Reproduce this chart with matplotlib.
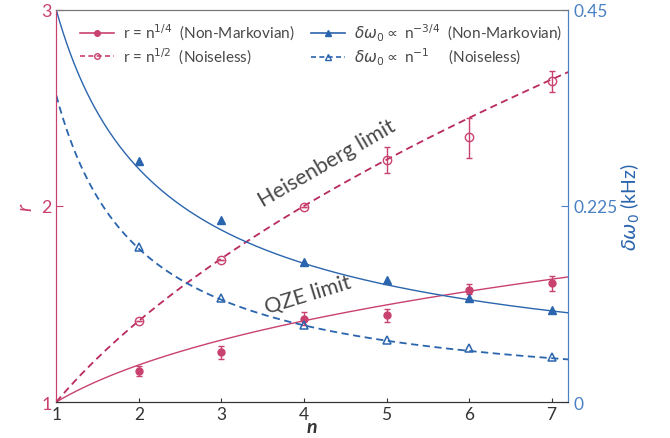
import numpy as np
import matplotlib.pyplot as plt

plt.rcParams['font.family'] = ['Lato', 'DejaVu Sans']
plt.rcParams['mathtext.fontset'] = 'dejavusans'

# measured points
n_pts = [2, 3, 4, 5, 6, 7]
r_nonmark = [1.16, 1.253, 1.423, 1.444, 1.571, 1.607]
r_nonmark_lo = [0.025, 0.034, 0.03, 0.034, 0.021, 0.039]
r_nonmark_hi = [0.025, 0.034, 0.037, 0.030, 0.029, 0.038]
r_noiseless = [1.413, 1.724, 1.997, 2.236, 2.35, 2.64]
r_noiseless_lo = [0.0, 0.0, 0.0, 0.066, 0.105, 0.06]
r_noiseless_hi = [0.0, 0.0, 0.0, 0.064, 0.10, 0.05]
dw_nonmark = [0.2763, 0.209, 0.1604, 0.140, 0.1197, 0.106]
dw_noiseless = [0.1775, 0.119, 0.0884, 0.0716, 0.0621, 0.0518]

# scaling curves r = n^p, dw = b n^q
r_exp = [0.25, 0.5]
dw_amp = [0.45, 0.352]
dw_exp = [-0.75, -1.0]

pink = '#c9416f'
pink_dark = '#b82a60'
blue = '#2a65ad'
blue_axis = '#4a80c4'
grey = '#484848'

fig, ax = plt.subplots(figsize=(6.7, 4.39), dpi=100)
ax2 = ax.twinx()
fig.subplots_adjust(left=0.084, right=0.848, top=0.975, bottom=0.082)

n = np.linspace(1, 7.2, 300)
ax.plot(n, n ** r_exp[0], '-', color=pink, lw=1.0)
ax.plot(n, n ** r_exp[1], '--', color=pink_dark, lw=1.3, dashes=(4, 2.5))
ax2.plot(n, dw_amp[0] * n ** dw_exp[0], '-', color=blue, lw=1.0)
ax2.plot(n, dw_amp[1] * n ** dw_exp[1], '--', color=blue, lw=1.3, dashes=(4, 2.5))

ax.errorbar(n_pts, r_nonmark, yerr=[r_nonmark_lo, r_nonmark_hi], fmt='o', ms=5,
            color=pink, capsize=2.5, elinewidth=1, zorder=5)
ax.errorbar(n_pts, r_noiseless, yerr=[r_noiseless_lo, r_noiseless_hi], fmt='o', ms=6,
            mfc='none', mec=pink, color=pink, capsize=2.5, elinewidth=1, zorder=5)
ax2.plot(n_pts, dw_nonmark, '^', ms=6, color=blue)
ax2.plot(n_pts, dw_noiseless, '^', ms=6, mfc='none', mec=blue, mew=1.1)

# legend handles
h1, = ax.plot([], [], '-o', color=pink, ms=4, lw=1.2)
h2, = ax.plot([], [], '--o', color=pink, ms=4, mfc='none', lw=1.2, dashes=(3, 2))
h3, = ax.plot([], [], '-^', color=blue, ms=5, lw=1.2)
h4, = ax.plot([], [], '--^', color=blue, ms=5, mfc='none', lw=1.2, dashes=(3, 2))
leg = ax.legend([h1, h2, h3, h4],
                [r'r = n$^{1/4}$  (Non-Markovian)', r'r = n$^{1/2}$  (Noiseless)',
                 r'$\delta\omega_0$$\propto$ n$^{-3/4}$  (Non-Markovian)',
                 r'$\delta\omega_0$$\propto$ n$^{-1}$     (Noiseless)'],
                ncol=2, frameon=False, loc='upper left', bbox_to_anchor=(0.02, 1.005),
                fontsize=11, handlelength=2.2, handletextpad=0.6, columnspacing=1.1,
                labelspacing=0.2)
for t in leg.get_texts():
    t.set_color(grey)

ax.text(4.28, 2.22, 'Heisenberg limit', rotation=30, fontsize=15.5, color=grey,
        ha='center', va='center')
ax.text(4.05, 1.55, 'QZE limit', rotation=17, fontsize=15.5, color=grey,
        ha='center', va='center')

ax.set_xlim(1, 7.2)
ax.set_ylim(1, 3)
ax2.set_ylim(0, 0.45)
ax.set_xticks([1, 2, 3, 4, 5, 6, 7])
ax.set_yticks([1, 2, 3])
ax2.set_yticks([0, 0.225, 0.45])
ax2.set_yticklabels(['0', '0.225', '0.45'])

ax.tick_params(axis='x', direction='in', length=3, labelsize=12.5, colors='#333333', pad=3)
ax.tick_params(axis='y', direction='in', length=5, labelsize=13, colors=pink)
ax2.tick_params(axis='y', direction='in', length=5, labelsize=12.5, colors=blue_axis)

for a in (ax, ax2):
    a.spines['top'].set_color('#777777')
    a.spines['bottom'].set_color('#333333')
    a.spines['left'].set_color(pink)
    a.spines['right'].set_color(blue_axis)

ax.set_xlabel('n', fontsize=14, style='italic', fontweight='bold', color='#333333', labelpad=-3)
ax.set_ylabel('r', fontsize=15, style='italic', color=pink, labelpad=4)
ax2.set_ylabel(r'$\delta\omega_0$ (kHz)', fontsize=14, color=blue, labelpad=1)

fig.savefig('out.png')
